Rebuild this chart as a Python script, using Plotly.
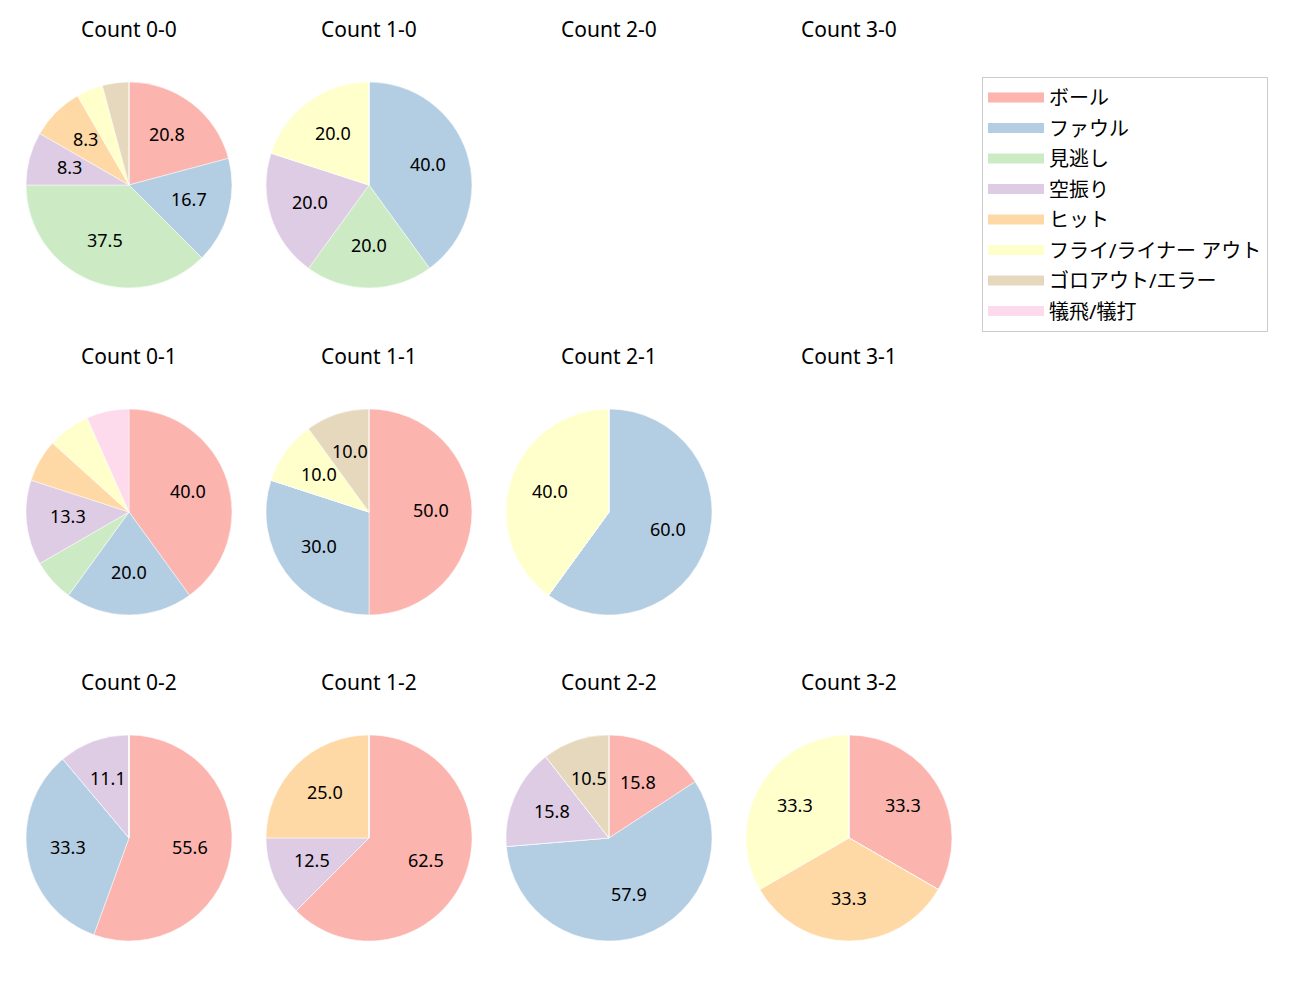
import math
import plotly.graph_objects as go

# categories (legend order) and Pastel1 colours
LABELS = ["ボール", "ファウル", "見逃し", "空振り", "ヒット",
          "フライ/ライナー アウト", "ゴロアウト/エラー", "犠飛/犠打"]
COLORS = ["#fbb4ae", "#b3cde3", "#ccebc5", "#decbe4", "#fed9a6",
          "#ffffcc", "#e5d8bd", "#fddaec"]

# pitch counts per ball-strike count, in LABELS order (None = no data)
COUNT_00 = [5, 4, 9, 2, 2, 1, 1, 0]
COUNT_10 = [0, 2, 1, 1, 0, 1, 0, 0]
COUNT_20 = None
COUNT_30 = None
COUNT_01 = [6, 3, 1, 2, 1, 1, 0, 1]
COUNT_11 = [5, 3, 0, 0, 0, 1, 1, 0]
COUNT_21 = [0, 3, 0, 0, 0, 2, 0, 0]
COUNT_31 = None
COUNT_02 = [5, 3, 0, 1, 0, 0, 0, 0]
COUNT_12 = [5, 0, 0, 1, 2, 0, 0, 0]
COUNT_22 = [3, 11, 0, 3, 0, 0, 2, 0]
COUNT_32 = [1, 0, 0, 0, 1, 1, 0, 0]

GRID = [
    [("0-0", COUNT_00), ("1-0", COUNT_10), ("2-0", COUNT_20), ("3-0", COUNT_30)],
    [("0-1", COUNT_01), ("1-1", COUNT_11), ("2-1", COUNT_21), ("3-1", COUNT_31)],
    [("0-2", COUNT_02), ("1-2", COUNT_12), ("2-2", COUNT_22), ("3-2", COUNT_32)],
]

W, H = 1300, 1000
OFF = 8  # page body margin
COL_X = [129, 369, 609, 849]
ROW_Y = [185, 512, 838]
R = 103
PCT_DIST = 0.6  # label distance from centre, as share of radius
MIN_PCT = 7     # smaller slices get no label
FONT = "Noto Sans, Noto Sans CJK JP"


def px(x):
    return (x - OFF) / W


def py(y):
    return 1 - (y - OFF) / H


fig = go.Figure()

for ri, row in enumerate(GRID):
    for ci, (name, vals) in enumerate(row):
        cx, cy = COL_X[ci], ROW_Y[ri]
        fig.add_annotation(text=f"Count {name}", x=px(cx), y=py(cy - 156),
                           xref="paper", yref="paper", showarrow=False,
                           xanchor="center", yanchor="middle",
                           font=dict(size=21, color="black", family=FONT))
        if not vals:
            continue
        total = sum(vals)
        fig.add_trace(go.Pie(
            labels=LABELS, values=vals, textinfo="none",
            marker=dict(colors=COLORS, line=dict(color="white", width=0.5)),
            sort=False, direction="clockwise", rotation=0,
            showlegend=False, hoverinfo="label+percent",
            domain=dict(x=[px(cx - R), px(cx + R)],
                        y=[py(cy + R), py(cy - R)]),
        ))
        # percentage labels on the slice bisector (clockwise from 12 o'clock)
        cum = 0
        for v in vals:
            frac = v / total
            mid = math.radians(90 - 360 * (cum + frac / 2))
            cum += frac
            if frac * 100 <= MIN_PCT:
                continue
            fig.add_annotation(
                text=f"{frac * 100:.1f}",
                x=px(cx + PCT_DIST * R * math.cos(mid)),
                y=py(cy - 2 - PCT_DIST * R * math.sin(mid)),
                xref="paper", yref="paper", showarrow=False,
                xanchor="center", yanchor="middle",
                font=dict(size=18, color="black", family=FONT))

# legend entries as thick line swatches
for lab, col in zip(LABELS, COLORS):
    fig.add_trace(go.Scatter(x=[None], y=[None], mode="lines", name=lab,
                             legendgroup=lab,
                             line=dict(color=col, width=15)))

fig.update_layout(
    width=W, height=H,
    margin=dict(l=0, r=0, t=0, b=0),
    paper_bgcolor="white", plot_bgcolor="white",
    font=dict(family=FONT, size=18, color="black"),
    xaxis=dict(visible=False), yaxis=dict(visible=False),
    legend=dict(x=px(982), y=py(77), xanchor="left", yanchor="top",
                bordercolor="#cccccc", borderwidth=1, bgcolor="white",
                itemwidth=56, tracegroupgap=1.5,
                font=dict(size=20, family=FONT)),
)

fig.write_html("out.html")
